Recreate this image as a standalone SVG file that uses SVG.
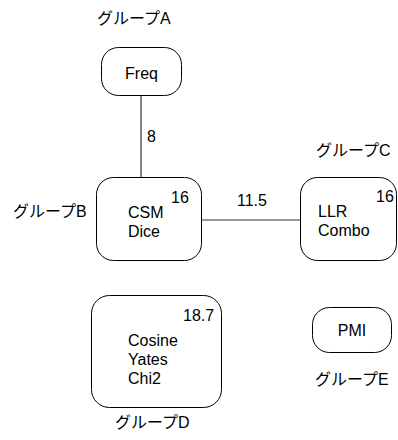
<svg xmlns="http://www.w3.org/2000/svg" width="398" height="440" viewBox="0 0 398 440">
<style>
text{font-family:"Liberation Sans","Noto Sans CJK JP",Arial,sans-serif;font-size:16px;fill:#000}
.box{fill:#fff;stroke:#000;stroke-width:1}
.edge{stroke:#333;stroke-width:1.2;fill:none}
.c{text-anchor:middle}
</style>
<rect width="398" height="440" fill="#fff"/>
<g id="connectors">
<line class="edge" x1="141" y1="95" x2="141" y2="177"/>
<text x="147" y="142">8</text>
<line class="edge" x1="202" y1="220" x2="300" y2="220"/>
<text x="237" y="206">11.5</text>
</g>
<g id="groupA">
<text x="97" y="24">グループA</text>
<rect class="box" x="101.5" y="47.5" width="80" height="48" rx="17"/>
<text class="c" x="141.5" y="79">Freq</text>
</g>
<g id="groupB">
<text x="13" y="217">グループB</text>
<rect class="box" x="96.5" y="177.5" width="105" height="83" rx="17"/>
<text x="128" y="218">CSM</text>
<text x="128" y="237">Dice</text>
<text x="171" y="203">16</text>
</g>
<g id="groupC">
<text x="316" y="156">グループC</text>
<rect class="box" x="300.5" y="177.5" width="96" height="83" rx="17"/>
<text x="318" y="217">LLR</text>
<text x="318" y="236">Combo</text>
<text x="376" y="202">16</text>
</g>
<g id="groupD">
<rect class="box" x="91.5" y="295.5" width="130" height="112" rx="18"/>
<text x="183" y="321">18.7</text>
<text x="128" y="346">Cosine</text>
<text x="128" y="365">Yates</text>
<text x="128" y="384">Chi2</text>
<text x="115" y="428">グループD</text>
</g>
<g id="groupE">
<rect class="box" x="312.5" y="307.5" width="79" height="45" rx="17"/>
<text class="c" x="352" y="336">PMI</text>
<text x="315" y="385">グループE</text>
</g>
</svg>
